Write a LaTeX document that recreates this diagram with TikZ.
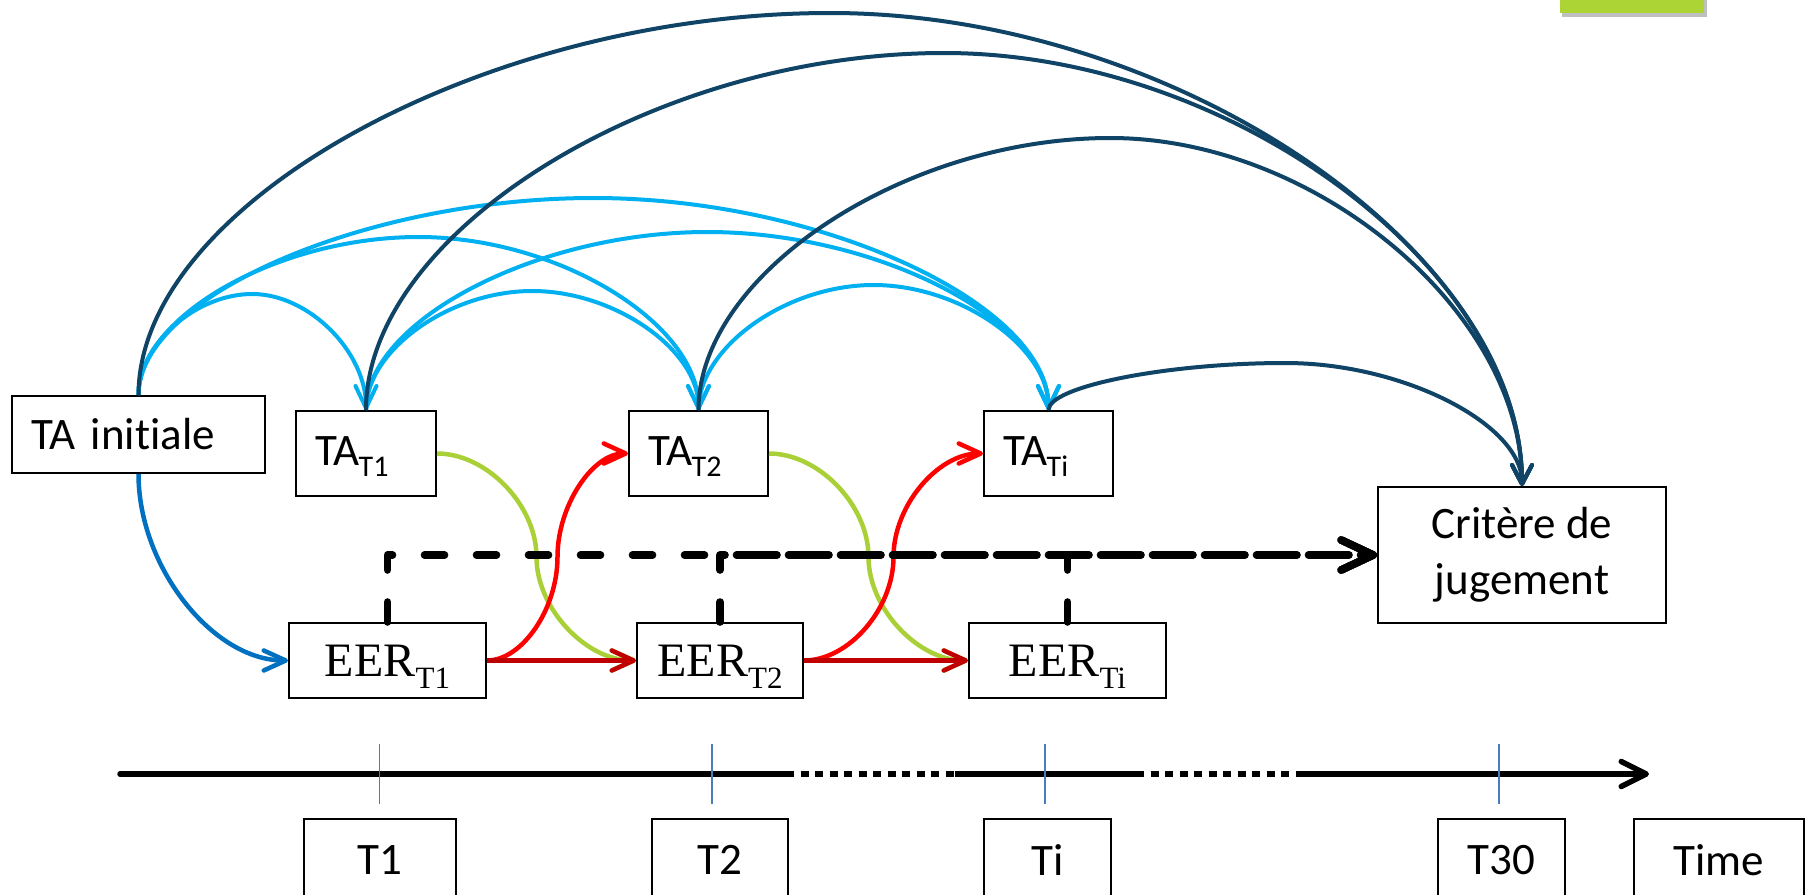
\documentclass[tikz,border=0pt]{standalone}
\usepackage{fontspec}
\setmainfont{Carlito}[Ligatures=CommonOff]
\newfontfamily\tnr{Liberation Serif}
\usetikzlibrary{arrows.meta,calc}
\definecolor{navyarc}{RGB}{15,68,102}
\definecolor{skyarc}{RGB}{0,176,240}
\definecolor{bluearr}{RGB}{0,112,192}
\definecolor{redarr}{RGB}{255,0,0}
\definecolor{darkredarr}{RGB}{192,0,0}
\definecolor{limearr}{RGB}{170,208,55}
\definecolor{limebar}{RGB}{172,212,52}
\definecolor{tickblue}{RGB}{74,126,187}
\newcommand{\tasub}[1]{\kern-0.6pt\raisebox{-5.5pt}[0pt][2pt]{\fontsize{15pt}{15pt}\selectfont #1}}
\newcommand{\eersub}[1]{\raisebox{-6pt}[0pt][0pt]{\fontsize{15.5pt}{15.5pt}\selectfont #1}}
\tikzset{
  box/.style={draw=black, line width=1pt, fill=white, inner sep=0pt},
  calfont/.style={font=\fontsize{22.5pt}{28pt}\selectfont},
  tabox/.style={box, calfont, align=left, inner xsep=9.7pt, inner ysep=0pt, minimum height=42.5pt},
  eerbox/.style={box, font=\tnr\fontsize{24pt}{28pt}\selectfont, minimum height=37.5pt},
  tbox/.style={box, calfont, minimum height=41pt},
  ppt arc/.style={to path={
    let \p1=(\tikztostart), \p2=(\tikztotarget), \p3=(0,#1) in
    .. controls (\x1,{0.5*(\y1+\y3)}) and ({0.75*\x1+0.25*\x2},\y3) .. ({0.5*(\x1+\x2)},\y3)
    .. controls ({0.25*\x1+0.75*\x2},\y3) and (\x2,{0.5*(\y2+\y3)}) .. (\tikztotarget)}},
  ppt s/.style={to path={
    let \p1=(\tikztostart), \p2=(\tikztotarget) in
    .. controls ({0.75*\x1+0.25*\x2},\y1) and ({0.5*(\x1+\x2)},{0.75*\y1+0.25*\y2}) .. ({0.5*(\x1+\x2)},{0.5*(\y1+\y2)})
    .. controls ({0.5*(\x1+\x2)},{0.25*\y1+0.75*\y2}) and ({0.25*\x1+0.75*\x2},\y2) .. (\tikztotarget)}},
  ppt l/.style={to path={
    let \p1=(\tikztostart), \p2=(\tikztotarget) in
    .. controls (\x1,{0.5*(\y1+\y2)}) and ({0.5*(\x1+\x2)},\y2) .. (\tikztotarget)}},
  skyline/.style={draw=skyarc, line width=2pt, -{Straight Barb[length=11pt,width=10.5pt,round]}},
  navyline/.style={draw=navyarc, line width=2pt, -{Straight Barb[length=9.5pt,width=10pt,round]}},
  colline/.style={line width=2.25pt, -{Straight Barb[length=11pt,width=10pt,round]}},
  dashline/.style={line width=3.8pt, dash pattern=on 10pt off 16pt, line cap=round, line join=round,
    -{Straight Barb[length=16pt,width=15pt,round]}},
  axisline/.style={line width=2.75pt, black},
  dotline/.style={line width=2.75pt, black, dash pattern=on 4pt off 3.25pt},
  tickline/.style={draw=tickblue, line width=0.75pt},
}
\begin{document}
\begin{tikzpicture}[x=0.5pt,y=-0.5pt]
\path[use as bounding box, fill=white] (0,0) rectangle (1812,895);

% green bar at top right
\fill[black, opacity=0.25] (1562,-10) rectangle (1707,17);
\fill[limebar] (1560,-10) rectangle (1704,13);

% nodes
\node[tabox, text width=107.1pt, minimum height=38.5pt] (TAinit) at (138.5,434.5) {TA initiale};
\node[tabox, text width=50.6pt] (TAT1) at (366,453.5) {TA\tasub{T1}};
\node[tabox, text width=50.1pt] (TAT2) at (698.5,453.5) {TA\tasub{T2}};
\node[tabox, text width=45.1pt] (TATi) at (1048.5,453.5) {TA\tasub{Ti}};
\node[eerbox, minimum width=98.5pt] (EERT1) at (387.5,660.5) {EER\eersub{T1}};
\node[eerbox, minimum width=83pt] (EERT2) at (720,660.5) {EER\eersub{T2}};
\node[eerbox, minimum width=98.5pt] (EERTi) at (1067.5,660.5) {EER\eersub{Ti}};
\node[box, calfont, align=center, minimum width=144pt, minimum height=68pt] (Crit) at (1522,555) {Critère de\\jugement};

\node[tbox, minimum width=76pt] (L1) at (380,860) {T1};
\node[tbox, minimum width=68.25pt] (L2) at (720,860) {T2};
\node[tbox, minimum width=63.5pt] (Li) at (1047.5,860) {Ti};
\node[tbox, minimum width=63.5pt] (L30) at (1501.5,860) {T30};
\node[tbox, minimum width=85pt] (Ltime) at (1719,860) {Time};

% light blue arcs between TA boxes
\draw[skyline] (TAinit.north) to[ppt arc=294] (TAT1.north);
\draw[skyline] (TAinit.north) to[ppt arc=237] (TAT2.north);
\draw[skyline] (TAinit.north) to[ppt arc=198] (TATi.north);
\draw[skyline] (TAT1.north) to[ppt arc=291] (TAT2.north);
\draw[skyline] (TAT1.north) to[ppt arc=232] (TATi.north);
\draw[skyline] (TAT2.north) to[ppt arc=285] (TATi.north);

% dark blue arcs to Critere
\draw[navyline] (TAinit.north) to[ppt arc=13] (Crit.north);
\draw[navyline] (TAT1.north) to[ppt arc=53] (Crit.north);
\draw[navyline] (TAT2.north) to[ppt arc=138] (Crit.north);
\draw[navyline] (TATi.north) to[ppt arc=363] (Crit.north);

% TA initiale -> EER T1
\draw[colline, draw=bluearr] (TAinit.south) to[ppt l] (EERT1.west);

% green TA -> EER
\draw[colline, draw=limearr] (TAT1.east) to[ppt s] (EERT2.west);
\draw[colline, draw=limearr] (TAT2.east) to[ppt s] (EERTi.west);

% red EER -> TA
\draw[colline, draw=redarr] (EERT1.east) to[ppt s] (TAT2.west);
\draw[colline, draw=redarr] (EERT2.east) to[ppt s] (TATi.west);

% dark red EER -> EER
\draw[colline, draw=darkredarr] (EERT1.east) -- (EERT2.west);
\draw[colline, draw=darkredarr] (EERT2.east) -- (EERTi.west);

% dashed connectors to Critere
\draw[dashline] (EERT1.north) |- (Crit.west);
\draw[dashline] (EERT2.north) |- (Crit.west);
\draw[dashline] (EERTi.north) |- (Crit.west);

% time axis
\coordinate (t0) at (120,774);
\coordinate (d1a) at (786,774);
\coordinate (d1b) at (955,774);
\coordinate (d2a) at (1136,774);
\coordinate (d2b) at (1301,774);
\coordinate (tend) at (1649,774);
\draw[axisline, line cap=round] (t0) -- (d1a);
\draw[dotline] (d1a) -- (d1b);
\draw[axisline] (d1b) -- (d2a);
\draw[dotline] (d2a) -- (d2b);
\draw[axisline, -{Straight Barb[length=12.5pt,width=12.5pt,round]}] (d2b) -- (tend);

% ticks
\draw[tickline] (379.4,744) -- (379.4,804);
\draw[tickline] (712,744) -- (712,804);
\draw[tickline] (1045,744) -- (1045,804);
\draw[tickline] (1499,744) -- (1499,804);
\end{tikzpicture}
\end{document}
